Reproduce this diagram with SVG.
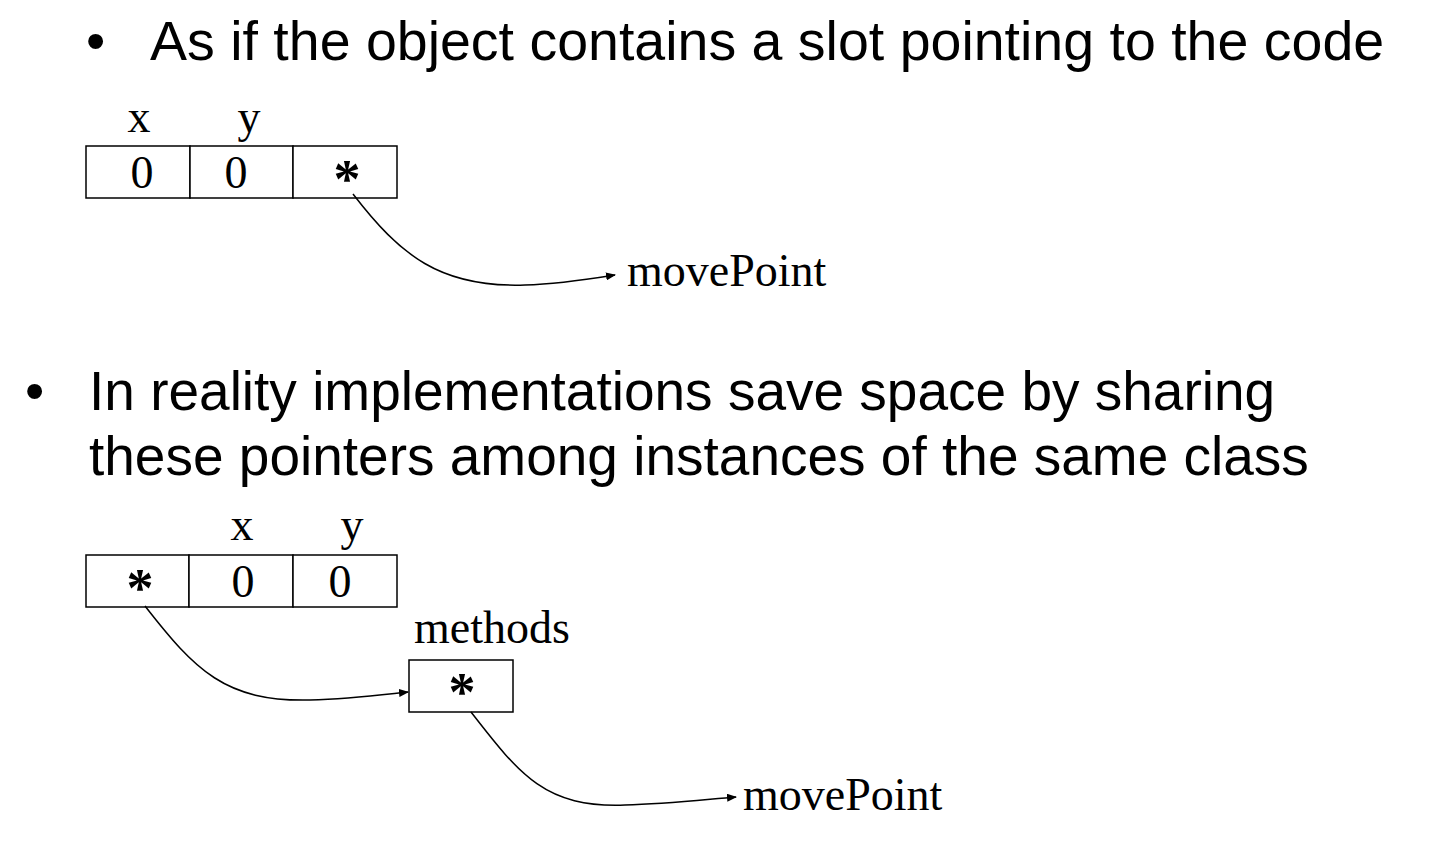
<svg xmlns="http://www.w3.org/2000/svg" width="1448" height="842" viewBox="0 0 1448 842">
<style>
.b{font-family:"Liberation Sans",Arial,sans-serif;font-size:55px;fill:#000}
.t{font-family:"Liberation Serif","Times New Roman",serif;font-size:46px;fill:#000}
.s{font-family:"Liberation Serif","Times New Roman",serif;font-size:54px;font-weight:bold;fill:#000;text-anchor:middle}
.c{text-anchor:middle}
.box{fill:#fff;stroke:#000;stroke-width:1.5}
.con{fill:none;stroke:#000;stroke-width:1.5}
</style>
<defs>
<marker id="ah" markerWidth="10" markerHeight="8" refX="9" refY="4" orient="auto" markerUnits="userSpaceOnUse">
<path d="M0,0 L10,4 L0,8 Z" fill="#000"/>
</marker>
</defs>
<rect width="1448" height="842" fill="#fff"/>
<g id="text1">
<text class="b" x="86" y="60">•</text>
<text class="b" x="150" y="60" style="font-size:55.5px">As if the object contains a slot pointing to the code</text>
</g>
<g id="obj1">
<text class="t c" x="139" y="132">x</text>
<text class="t c" x="249" y="132">y</text>
<rect class="box" x="86" y="146" width="104" height="52"/>
<rect class="box" x="190" y="146" width="103" height="52"/>
<rect class="box" x="293" y="146" width="104" height="52"/>
<text class="t c" x="142" y="188">0</text>
<text class="t c" x="236" y="188">0</text>
<text class="s" x="347" y="197">*</text>
</g>
<g id="mp1">
<text class="t" x="627" y="286">movePoint</text>
</g>
<g id="text2">
<text class="b" x="25" y="410">•</text>
<text class="b" x="89" y="410">In reality implementations save space by sharing</text>
<text class="b" x="89" y="475">these pointers among instances of the same class</text>
</g>
<g id="obj2">
<text class="t c" x="242" y="540">x</text>
<text class="t c" x="352" y="540">y</text>
<rect class="box" x="86" y="555" width="103" height="52"/>
<rect class="box" x="189" y="555" width="104" height="52"/>
<rect class="box" x="293" y="555" width="104" height="52"/>
<text class="s" x="140" y="606">*</text>
<text class="t c" x="243" y="597">0</text>
<text class="t c" x="340" y="597">0</text>
</g>
<g id="methods">
<text class="t" x="414" y="643">methods</text>
<rect class="box" x="409" y="660" width="104" height="52"/>
<text class="s" x="462" y="710">*</text>
</g>
<g id="mp2">
<text class="t" x="743" y="810">movePoint</text>
</g>
<g id="connectors">
<path class="con" marker-end="url(#ah)" d="M353,194 C 400,255 440,288 525,285 C 560,284 590,279 615,275"/>
<path class="con" marker-end="url(#ah)" d="M145,606 C 195,670 225,702 310,700 C 350,699 380,695 408,692"/>
<path class="con" marker-end="url(#ah)" d="M471,712 C 520,775 545,808 625,805 C 665,804 700,800 736,797"/>
</g>
</svg>
